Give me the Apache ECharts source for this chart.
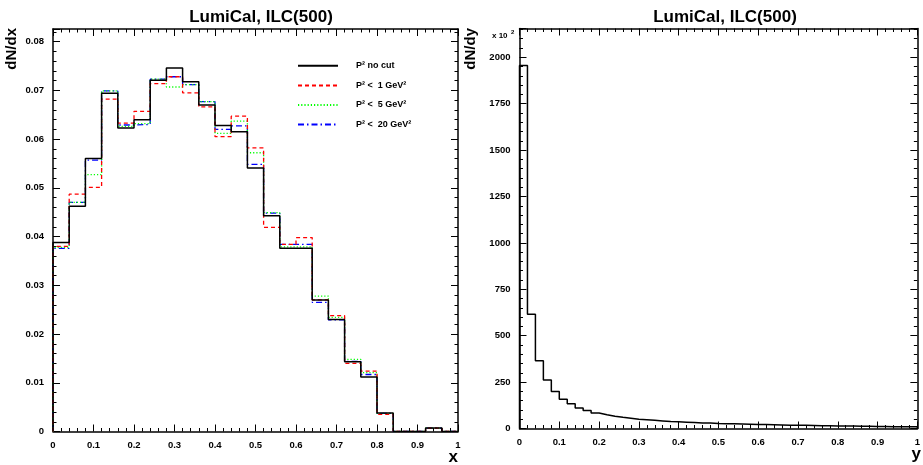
<!DOCTYPE html>
<html>
<head>
<meta charset="utf-8">
<script src="https://cdn.jsdelivr.net/npm/echarts@6/dist/echarts.min.js"></script>
<style>
html,body{margin:0;padding:0;background:#fff;}
#c{width:923px;height:465px;}
</style>
</head>
<body>
<div id="c"></div>
<script>
// ---------------- data ----------------
const titleText = 'LumiCal, ILC(500)';
const xBinWidth = 0.04;   // left histogram bin width
const yBinWidth = 0.02;   // right histogram bin width

const seriesNames = ['P\u00B2 no cut', 'P\u00B2 <  1 GeV\u00B2', 'P\u00B2 <  5 GeV\u00B2', 'P\u00B2 <  20 GeV\u00B2'];

// dN/dx, 25 bins 0..1
const noCut = [0.0388,0.0462,0.0560,0.0694,0.0623,0.0640,0.0721,0.0746,0.0718,0.0670,0.0628,0.0615,0.0541,0.0443,0.0376,0.0376,0.0270,0.0230,0.0143,0.0112,0.0038,0,0,0.0007,0];
const cut1  = [0.0380,0.0487,0.0501,0.0682,0.0633,0.0657,0.0714,0.0728,0.0695,0.0666,0.0605,0.0647,0.0582,0.0419,0.0384,0.0398,0.0270,0.0238,0.0140,0.0124,0.0035,0,0,0.0007,0];
const cut5  = [0.0378,0.0470,0.0527,0.0699,0.0626,0.0632,0.0723,0.0707,0.0712,0.0677,0.0612,0.0637,0.0572,0.0449,0.0379,0.0379,0.0278,0.0234,0.0148,0.0121,0.0037,0,0,0.0007,0];
const cut20 = [0.0376,0.0470,0.0557,0.0699,0.0629,0.0630,0.0723,0.0728,0.0712,0.0677,0.0620,0.0627,0.0548,0.0448,0.0384,0.0384,0.0265,0.0229,0.0144,0.0117,0.0037,0,0,0.0007,0];

// dN/dy (x 10^2), 50 bins 0..1
const dNdy = [1955,615,365,261,200,158,133,111,97,84,74,66,60,55,50,47,44,41,38,36,
              34,32,30,29,27,26,25,24,23,22,21,20,19,18,17,17,16,15,15,14,
              13,13,12,12,11,11,10,10,9,9];

const xTicks = [0,0.1,0.2,0.3,0.4,0.5,0.6,0.7,0.8,0.9,1];
const leftYTicks = [0,0.01,0.02,0.03,0.04,0.05,0.06,0.07,0.08];
const rightYTicks = [0,250,500,750,1000,1250,1500,1750,2000];

// ---------------- helpers ----------------
function histPoints(vals, w) {
  const pts = [[0, 0]];
  vals.forEach((v, i) => pts.push([+(i * w).toFixed(4), v]));
  pts.push([1, vals[vals.length - 1]]);
  pts.push([1, 0]);
  return pts;
}

const FONT = 'Liberation Sans, Arial, Helvetica, sans-serif';
const labelStyle = {fontFamily: FONT, fontWeight: 'bold', fontSize: 9.5, color: '#000'};

function mainX(gridIndex, show) {
  return {
    type: 'value', gridIndex, min: 0, max: 1, interval: 0.1, position: 'bottom',
    axisLine: {show: true, onZero: false, lineStyle: {color: '#000', width: 1.5}},
    axisTick: {show: true, inside: true, length: 7, lineStyle: {color: '#000', width: 1}},
    minorTick: {show: true, splitNumber: 5, length: 3.5, lineStyle: {color: '#000', width: 1}},
    axisLabel: Object.assign({show: show, margin: 9, formatter: v => (xTicks.indexOf(+v.toFixed(4)) >= 0 ? String(+v.toFixed(4)) : '')}, labelStyle),
    splitLine: {show: false}
  };
}
function topX(gridIndex) {
  return {
    type: 'value', gridIndex, min: 0, max: 1, interval: 0.1, position: 'top',
    axisLine: {show: true, onZero: false, lineStyle: {color: '#000', width: 1.5}},
    axisTick: {show: true, inside: true, length: 7, lineStyle: {color: '#000', width: 1}},
    minorTick: {show: true, splitNumber: 5, length: 3.5, lineStyle: {color: '#000', width: 1}},
    axisLabel: {show: false}, splitLine: {show: false}
  };
}
function yAx(gridIndex, max, interval, pos, showLabel, fmt) {
  return {
    type: 'value', gridIndex, min: 0, max, interval, position: pos,
    axisLine: {show: true, onZero: false, lineStyle: {color: '#000', width: 1.5}},
    axisTick: {show: true, inside: true, length: 7, lineStyle: {color: '#000', width: 1}},
    minorTick: {show: true, splitNumber: 5, length: 3.5, lineStyle: {color: '#000', width: 1}},
    axisLabel: Object.assign({show: showLabel, margin: 9, showMaxLabel: false, formatter: fmt}, labelStyle),
    splitLine: {show: false}
  };
}

const lineDefs = [
  {data: noCut, color: '#000000', type: 'solid', width: 1.5},
  {data: cut1,  color: '#ff0000', type: [4, 3], width: 1.3},
  {data: cut5,  color: '#00ff00', type: [1.2, 2], width: 1.3},
  {data: cut20, color: '#0000ff', type: [6, 3, 1.5, 3], width: 1.3}
];

const series = lineDefs.map((d, i) => ({
  name: seriesNames[i], type: 'line', xAxisIndex: 0, yAxisIndex: 0,
  step: 'end', symbol: 'none', silent: true, animation: false,
  z: 10 - i,
  data: histPoints(d.data, xBinWidth),
  lineStyle: {color: d.color, type: d.type, width: d.width},
  itemStyle: {color: d.color}
}));
series.push({
  name: 'dNdy', type: 'line', xAxisIndex: 2, yAxisIndex: 2,
  step: 'end', symbol: 'none', silent: true, animation: false,
  data: histPoints(dNdy, yBinWidth),
  lineStyle: {color: '#000', width: 1.5}
});

const chart = echarts.init(document.getElementById('c'), null, {renderer: 'canvas'});
chart.setOption({
  animation: false,
  backgroundColor: '#fff',
  grid: [
    {left: 53, top: 29, width: 405, height: 402.5},
    {left: 519.5, top: 28.5, width: 402, height: 400}
  ],
  xAxis: [mainX(0, true), topX(0), mainX(1, true), topX(1)],
  yAxis: [
    yAx(0, 0.0826, 0.01, 'left', true, v => (leftYTicks.indexOf(+v.toFixed(4)) >= 0 ? String(+v.toFixed(4)) : '')),
    yAx(0, 0.0826, 0.01, 'right', false),
    yAx(1, 2155, 250, 'left', true, v => (rightYTicks.indexOf(v) >= 0 ? String(v) : '')),
    yAx(1, 2155, 250, 'right', false)
  ],
  legend: {
    data: seriesNames, orient: 'vertical', left: 292, top: 56,
    itemWidth: 40, itemHeight: 12, itemGap: 10,
    selectedMode: false,
    itemStyle: {opacity: 0},
    textStyle: {fontFamily: FONT, fontWeight: 'bold', fontSize: 9, color: '#000', padding: [0, 0, 0, 13]}
  },
  title: [
    {text: titleText, left: 256, top: 4, textAlign: 'center',
     textStyle: {fontFamily: FONT, fontWeight: 'bold', fontSize: 17, color: '#000'}},
    {text: titleText, left: 720, top: 4, textAlign: 'center',
     textStyle: {fontFamily: FONT, fontWeight: 'bold', fontSize: 17, color: '#000'}}
  ],
  graphic: [
    {type: 'text', x: 4, y: 28, rotation: Math.PI / 2,
     style: {text: 'dN/dx', textAlign: 'right', textVerticalAlign: 'top', fontFamily: FONT, fontWeight: 'bold', fontSize: 15, fill: '#000'}},
    {type: 'text', x: 463, y: 28, rotation: Math.PI / 2,
     style: {text: 'dN/dy', textAlign: 'right', textVerticalAlign: 'top', fontFamily: FONT, fontWeight: 'bold', fontSize: 15, fill: '#000'}},
    {type: 'text', x: 492, y: 32,
     style: {text: 'x 10', textAlign: 'left', textVerticalAlign: 'top', fontFamily: FONT, fontWeight: 'bold', fontSize: 8, fill: '#000'}},
    {type: 'text', x: 511, y: 29,
     style: {text: '2', textAlign: 'left', textVerticalAlign: 'top', fontFamily: FONT, fontWeight: 'bold', fontSize: 6, fill: '#000'}},
    {type: 'text', x: 458, y: 449,
     style: {text: 'x', textAlign: 'right', textVerticalAlign: 'top', fontFamily: FONT, fontWeight: 'bold', fontSize: 17, fill: '#000'}},
    {type: 'text', x: 921, y: 446,
     style: {text: 'y', textAlign: 'right', textVerticalAlign: 'top', fontFamily: FONT, fontWeight: 'bold', fontSize: 17, fill: '#000'}}
  ],
  series
});
</script>
</body>
</html>
